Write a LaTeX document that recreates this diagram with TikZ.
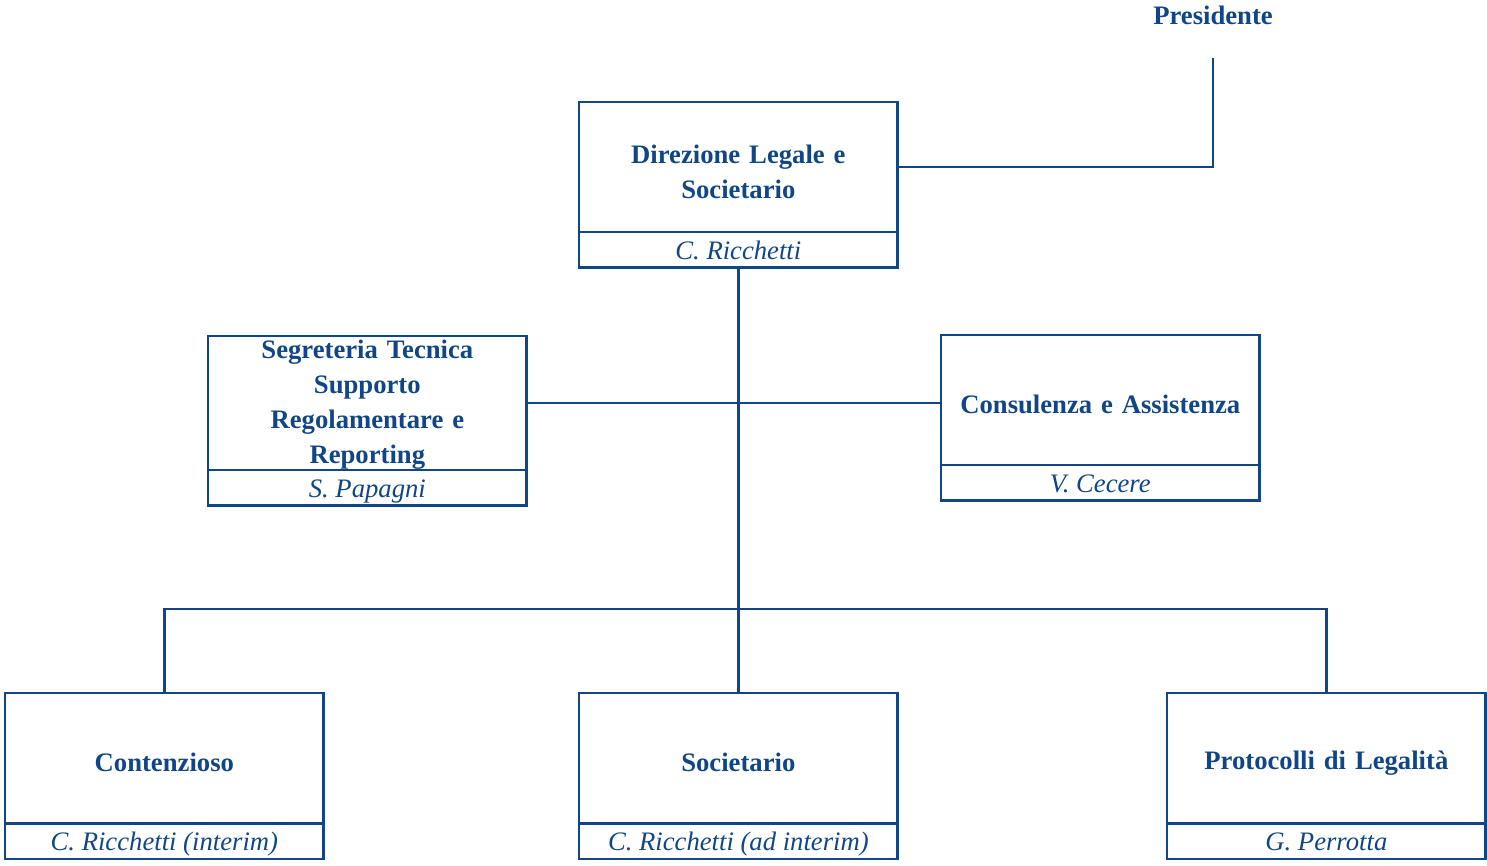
\documentclass[tikz,border=0pt]{standalone}
\usepackage{fontspec}
\setmainfont{Liberation Serif}[BoldFeatures={WordSpace=0.55}]
\usetikzlibrary{positioning}
\definecolor{orgblue}{RGB}{16,70,134}

\begin{document}
\begin{tikzpicture}[x=0.75pt,y=-0.75pt]
      \tikzstyle{box}=[rectangle, draw=orgblue, line width=2pt, inner sep=0pt, outer sep=0pt, minimum width=239pt, text width=239pt, align=center, font=\fontsize{20}{26.25}\selectfont\bfseries, text=orgblue, anchor=north west]
      \tikzstyle{unit}=[box, execute at begin node={\rule{0pt}{20.5pt}}]
      \tikzstyle{holder}=[rectangle, draw=orgblue, line width=2pt, inner sep=0pt, outer sep=0pt, minimum width=239pt, minimum height=26.5pt, text height=17pt, text depth=3pt, font=\fontsize{20}{22}\selectfont\itshape, text=orgblue, anchor=north]
      \tikzstyle{link}=[draw=orgblue, line width=2pt]

      \useasboundingbox (0,0) rectangle (1487,865);

      % top
      \node[font=\fontsize{20}{22}\selectfont\bfseries, text=orgblue] (pres) at (1213,15) {Presidente};
      \node[unit, minimum height=97.5pt] (dir) at (579,102) {Direzione Legale e\\Societario};
      \node[holder] (dirname) at (dir.south) {C. Ricchetti};

      % staff
      \node[box, minimum height=100.5pt, execute at begin node={\rule{0pt}{17pt}}] (segr) at (208,336) {Segreteria Tecnica\\Supporto\\Regolamentare e\\Reporting};
      \node[holder] (segrname) at (segr.south) {S. Papagni};
      \node[unit, minimum height=97.5pt] (cons) at (941,335) {Consulenza e Assistenza};
      \node[holder] (consname) at (cons.south) {V. Cecere};

      % bottom row
      \node[unit, minimum height=98pt] (cont) at (5,693) {Contenzioso};
      \node[holder] (contname) at (cont.south) {C. Ricchetti (interim)};
      \node[unit, minimum height=98pt] (soc) at (579,693) {Societario};
      \node[holder] (socname) at (soc.south) {C. Ricchetti (ad interim)};
      \node[unit, minimum height=98pt] (prot) at (1167,693) {Protocolli di Legalità};
      \node[holder] (protname) at (prot.south) {G. Perrotta};

      % connectors
      \coordinate (prestop) at (1213,58);
      \coordinate (bar) at (738,609);
      \path[link] (prestop) |- (dir.east);
      \path[link] (dirname.south) -- (soc.north);
      \path[link] (segr.east) -- (segr.east -| cons.west);
      \path[link] (cont.north) |- (bar) -| (prot.north);
    \end{tikzpicture}
\end{document}
